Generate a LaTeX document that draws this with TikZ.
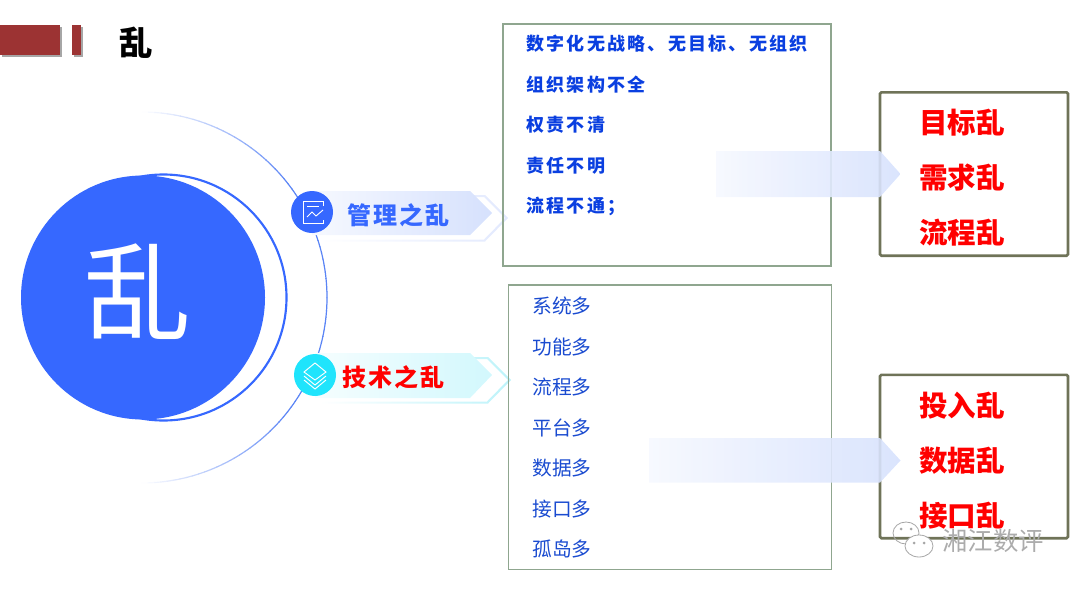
\documentclass[tikz,border=0pt]{standalone}
\usepackage{fontspec}
\setmainfont{Noto Sans CJK SC}
\usetikzlibrary{shadows}
\definecolor{mainblue}{HTML}{3668FF}
\definecolor{arcblue}{HTML}{5A84F5}
\definecolor{paleblue}{HTML}{D6E1FD}
\definecolor{edgeblue}{HTML}{E2E9FE}
\definecolor{cyandisc}{HTML}{1FE4FC}
\definecolor{palecyan}{HTML}{D2F8FD}
\definecolor{edgecyan}{HTML}{BDF3FA}
\definecolor{listblue}{HTML}{0A3FE0}
\definecolor{itemblue}{HTML}{1A4BD0}
\definecolor{boxgreen}{HTML}{8FA68F}
\definecolor{boxolive}{HTML}{6F7358}
\definecolor{barred}{HTML}{9C3333}
\tikzset{
  disc/.style={circle,fill=mainblue,inner sep=0pt},
  listbox/.style={draw=boxgreen,line width=.9pt,inner sep=0pt},
  resultbox/.style={draw=boxolive,line width=2pt,rounded corners=1pt,inner sep=0pt,minimum width=141pt,minimum height=122.5pt},
  bar/.style={fill=barred,drop shadow={shadow xshift=1.5pt,shadow yshift=-1.5pt,opacity=.7,fill=gray}},
  riskitem/.style={text=red,font=\fontsize{21.4}{25}\selectfont\bfseries},
  mgmtitem/.style={text=listblue,anchor=west,inner sep=0pt,font=\fontsize{13.5}{16}\selectfont\bfseries\addfontfeature{LetterSpace=12.6}},
  techitem/.style={text=itemblue,anchor=west,inner sep=0pt,font=\fontsize{14.8}{18}\selectfont},
  tagtext/.style={anchor=west,inner sep=0pt,font=\fontsize{18}{22}\selectfont\bfseries\addfontfeature{LetterSpace=8}},
  iconline/.style={draw=white,line width=.7pt},
  blueflow/.style={left color=paleblue!22!white,right color=paleblue},
  cyanflow/.style={left color=palecyan!22!white,right color=palecyan}
}
\begin{document}
\begin{tikzpicture}[x=.75pt,y=-.75pt]
  \useasboundingbox (0,0) rectangle (1080,589);
  \fill[bar] (0,25) rectangle (60,55);
  \fill[bar] (72,25) rectangle (81,55);
  \node[font=\fontsize{25}{30}\selectfont\bfseries] (title) at (136,43) {乱};

  \foreach \a in {-90,-88,...,88} {
    \pgfmathtruncatemacro{\p}{min(100,(90-abs(\a+1))*100/52)}
    \draw[color=arcblue!\p!white,line width=.9pt] ([shift={(141.5,297.5)}]\a:185.5) arc[start angle=\a,delta angle=2.2,radius=185.5];
  }
  \draw[mainblue,line width=1.6pt] (163.5,297.5) circle[radius=123];
  \node[disc,minimum size=183pt] (bigdisc) at (143,297.5) {};
  \node[text=white,font=\fontsize{80}{90}\selectfont] (bigchar) at (138,292) {乱};

  \shade[left color=white,right color=edgeblue,even odd rule] (320,195) -- (485,195) -- (508,218) -- (485,241.5) -- (320,241.5) -- cycle (320,197) -- (484,197) -- (505,218) -- (484,239.5) -- (320,239.5) -- cycle;
  \shade[blueflow] (312,191) -- (470,191) -- (492,213) -- (470,235) -- (312,235) -- cycle;
  \shade[left color=white,right color=edgecyan,even odd rule] (320,357) -- (488,357) -- (511,380) -- (488,403.5) -- (320,403.5) -- cycle (320,359) -- (487,359) -- (508,380) -- (487,401.5) -- (320,401.5) -- cycle;
  \shade[cyanflow] (315,353) -- (470,353) -- (492,375) -- (470,398) -- (315,398) -- cycle;

  \node[disc,minimum size=31.5pt] (mgmtdisc) at (312,212) {};
  \node[disc,fill=cyandisc,minimum size=31.5pt] (techdisc) at (315,375) {};
  \draw[iconline] (323,206) -- (323,201) -- (303,201) -- (303,223) -- (323,223) -- (323,220);
  \draw[iconline] (307,206) -- (319,206);
  \draw[iconline] (307,217) -- (312,212) -- (316,216) -- (323,210);
  \draw[iconline] (315,363) -- (326,372) -- (315,380) -- (304,372) -- cycle;
  \draw[iconline] (304,376) -- (315,385) -- (326,376);
  \draw[iconline] (304,380) -- (315,389) -- (326,380);
  \node[tagtext,text=mainblue] (mgmttag) at (347,215) {管理之乱};
  \node[tagtext,text=red] (techtag) at (342,377) {技术之乱};

  \node[listbox,minimum width=246pt,minimum height=181.5pt] (mgmtbox) at (667,145) {};
  \node[listbox,minimum width=242.5pt,minimum height=213.5pt] (techbox) at (670,427.25) {};
  \foreach \t [count=\i] in {数字化无战略、无目标、无组织,组织架构不全,权责不清,责任不明,流程不通；}
    \node[mgmtitem] (mgmt\i) at (526,{44+40.5*(\i-1)}) {\t};
  \foreach \t [count=\i] in {系统多,功能多,流程多,平台多,数据多,接口多,孤岛多}
    \node[techitem] (tech\i) at (532,{306+40.5*(\i-1)}) {\t};

  \node[resultbox] (riskup) at (974,174) {};
  \node[resultbox] (riskdown) at (974,456.5) {};
  \foreach \t [count=\i] in {目标乱,需求乱,流程乱}
    \node[riskitem] (up\i) at (962,{123+55*(\i-1)}) {\t};
  \foreach \t [count=\i] in {投入乱,数据乱,接口乱}
    \node[riskitem] (down\i) at (962,{406+55*(\i-1)}) {\t};

  \shade[blueflow,opacity=.9] (716,151) -- (880,151) -- (900.5,174) -- (880,197) -- (716,197) -- cycle;
  \shade[blueflow,opacity=.9] (649,438) -- (880,438) -- (900.5,460.5) -- (880,482.5) -- (649,482.5) -- cycle;

  \draw[gray!70,line width=.6pt] (906,533) ellipse[x radius=13,y radius=11];
  \draw[gray!70,fill=white,line width=.6pt] (919,546) ellipse[x radius=14,y radius=11];
  \fill[gray!70] (901,529) circle[radius=1.5] (911,529) circle[radius=1.5] (914,543) circle[radius=1.5] (924,543) circle[radius=1.5];
  \node[text=gray!65,font=\fontsize{19}{23}\selectfont,inner sep=0pt] (mark) at (993,541) {湘江数评};
\end{tikzpicture}
\end{document}
